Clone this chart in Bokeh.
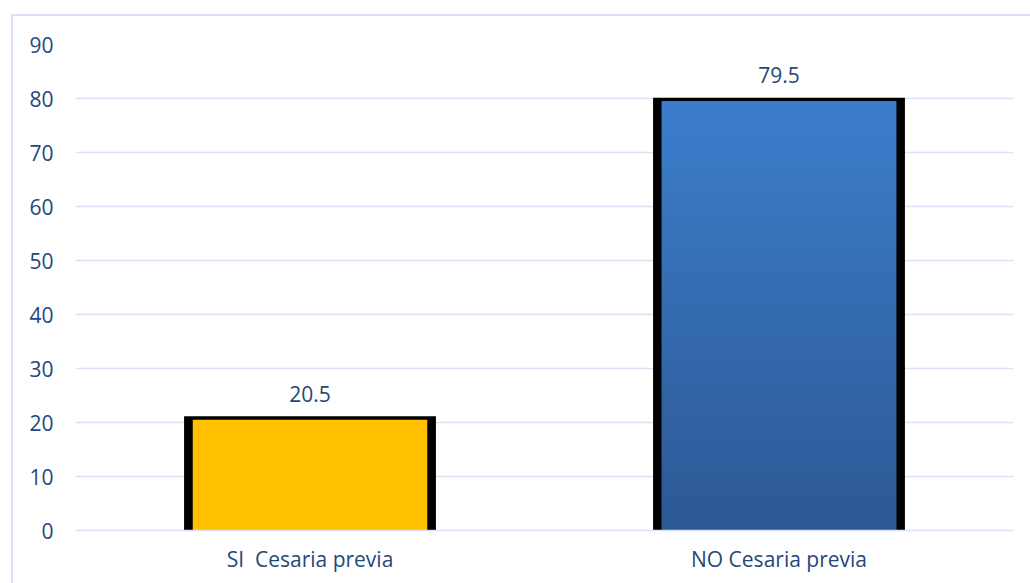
import numpy as np
from bokeh.plotting import figure
from bokeh.models import Range1d, FixedTicker, ColumnDataSource, InlineStyleSheet
from bokeh.core.properties import value
from bokeh.embed import file_html
from bokeh.resources import INLINE

categories = ["SI  Cesaria previa", "NO Cesaria previa"]
percentages = [20.5, 79.5]
value_labels = ["20.5", "79.5"]
y_ticks = [0, 10, 20, 30, 40, 50, 60, 70, 80, 90]

FONT = "Open Sans"
TEXT_COLOR = "#24487a"
GRID_COLOR = "#d9e3f3"

xs = [i + 0.5 for i in range(len(categories))]

border_css = InlineStyleSheet(css="""
:host { position: relative; }
:host::after {
  content: ''; position: absolute; left: 11px; top: 14px; width: 1100px; height: 700px;
  border: 2px solid #d9e3f3; pointer-events: none; box-sizing: border-box;
}
""")

p = figure(width=1030, height=583, output_backend="svg", toolbar_location=None,
           x_range=Range1d(0, len(categories)), y_range=Range1d(0, 90),
           min_border_left=75, min_border_right=17, min_border_top=44, min_border_bottom=53,
           stylesheets=[border_css])
p.outline_line_color = None
p.background_fill_color = "white"
p.border_fill_color = "white"

# bars: black backing, then fill
src = ColumnDataSource(dict(x=xs, top=percentages, back=[v + 0.65 for v in percentages],
                            fill=["#FFC000", "#3a7acb"], lab=value_labels))
p.vbar(x="x", top="back", width=0.537, bottom=0, source=src, fill_color="black", line_color=None)
p.vbar(x="x", top="top", width=0.5, bottom=0, source=src, fill_color="fill", line_color=None)

# vertical gradient for the blue bar
N = 256
img = np.empty((N, 1), dtype=np.uint32)
view = img.view(dtype=np.uint8).reshape((N, 1, 4))
top_c = np.array([60, 126, 204])
bot_c = np.array([45, 89, 148])
for r in range(N):
    t = r / (N - 1)
    c = bot_c + (top_c - bot_c) * t
    view[r, 0, 0:3] = c.astype(np.uint8)
    view[r, 0, 3] = 255
p.image_rgba(image=[img], x=xs[1] - 0.25, y=0, dw=0.5, dh=percentages[1])

# value labels
p.text(x="x", y="top", text="lab", source=src, text_align="center", text_baseline="alphabetic",
       y_offset=-26, text_font=value(FONT), text_font_size="21px", text_color=TEXT_COLOR)

# axes
p.xaxis.ticker = FixedTicker(ticks=xs)
p.xaxis.major_label_overrides = {x: c.replace("  ", "\u00a0 ") for x, c in zip(xs, categories)}
p.xaxis.major_tick_line_color = None
p.xaxis.minor_tick_line_color = None
p.xaxis.axis_line_color = GRID_COLOR
p.xaxis.axis_line_width = 1.5
p.xaxis.major_label_standoff = 8
p.xaxis.major_label_text_font = FONT
p.xaxis.major_label_text_font_size = "21px"
p.xaxis.major_label_text_color = TEXT_COLOR

p.yaxis.ticker = FixedTicker(ticks=y_ticks)
p.yaxis.major_tick_line_color = None
p.yaxis.minor_tick_line_color = None
p.yaxis.axis_line_color = None
p.yaxis.major_label_standoff = 16
p.yaxis.major_label_text_font = FONT
p.yaxis.major_label_text_font_size = "21px"
p.yaxis.major_label_text_color = TEXT_COLOR

p.xgrid.grid_line_color = None
p.ygrid.grid_line_color = GRID_COLOR
p.ygrid.grid_line_width = 1.5

open("out.html", "w").write(file_html(p, INLINE))
